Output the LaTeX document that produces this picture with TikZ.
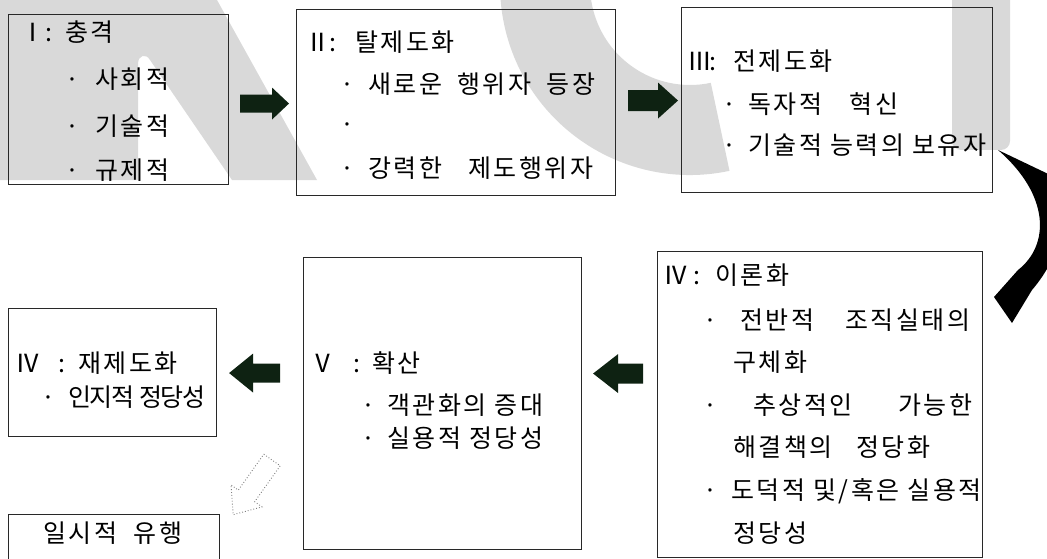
\documentclass[tikz,border=0pt]{standalone}
\usepackage{fontspec}
\usetikzlibrary{calc}
\newfontfamily\kr[LetterSpace=10]{Noto Sans CJK KR}
\newfontfamily\krc[LetterSpace=-5]{Noto Sans CJK KR}
\definecolor{wm}{RGB}{217,217,217}
\definecolor{arrg}{RGB}{14,34,18}
\definecolor{boxline}{RGB}{40,40,40}
\newcommand\bul[2]{\makebox[0pt]{·}\hspace{#1}#2}
% fat horizontal arrow: start, end, half shaft, half head, head length
\newcommand\fatarrow[5]{%
  \fill[arrg] let \p1=(#1), \p2=(#2), \n1={sign(\x2-\x1)} in
    (\x1,\y1+#3) -- (\x2-\n1*#5,\y1+#3) -- (\x2-\n1*#5,\y1+#4) -- (\x2,\y1)
    -- (\x2-\n1*#5,\y1-#4) -- (\x2-\n1*#5,\y1-#3) -- (\x1,\y1-#3) -- cycle;}
\begin{document}
\begin{tikzpicture}[x=1pt,y=-1pt,
  box/.style={draw=boxline, line width=1.1pt, anchor=north west, inner sep=0pt},
  txt/.style={anchor=base west, inner sep=0pt, font=\kr\fontsize{25}{29}\selectfont},
  hollow/.style={draw=gray, dotted, line width=0.9pt}]
\useasboundingbox (0,0) rectangle (1047,559);
\clip (0,0) rectangle (1047,559);
% watermark
\fill[wm] (0,0) -- (217,0) -- (317,180) -- (232,180) -- (150,60)
  .. controls (146,53) and (138,55) .. (138,64) -- (138,180) -- (0,180) -- cycle;
\fill[wm] ([shift={(78:190)}]690,-15) arc[start angle=78,end angle=215,radius=190]
  -- ([shift={(215:100)}]690,-15) arc[start angle=215,end angle=78,radius=100] -- cycle;
\fill[wm, rounded corners=9pt] (952,-20) rectangle (1010,150);
% boxes
\node[box, minimum width=220pt, minimum height=170pt] (b1) at (8,14) {};
\node[box, minimum width=319pt, minimum height=186pt] (b2) at (296,9) {};
\node[box, minimum width=311pt, minimum height=185pt] (b3) at (681,7) {};
\node[box, minimum width=325pt, minimum height=306pt] (b4) at (657,251) {};
\node[box, minimum width=278pt, minimum height=292pt] (b5) at (303,257) {};
\node[box, minimum width=208pt, minimum height=128pt] (b6) at (8,308) {};
\node[box, minimum width=211pt, minimum height=70pt] (b7) at (8,514) {};
% texts
\node[txt] (t1a) at (20,42) {\makebox[25pt][l]{Ⅰ}\makebox[20pt][l]{:}충격};
\node[txt] (t1b) at (72,89) {\bul{23pt}{사회적}};
\node[txt] (t1c) at (72,136) {\bul{23pt}{기술적}};
\node[txt] (t1d) at (72,179) {\bul{23pt}{규제적}};
\node[txt] (t2a) at (305,52) {\makebox[24pt][l]{Ⅱ}\makebox[26pt][l]{:}탈제도화};
\node[txt] (t2b) at (347,94) {\bul{21pt}{\makebox[227pt][s]{새로운 행위자 등장}}};
\node[txt] (t2c) at (347,134) {\makebox[0pt]{·}};
\node[txt] (t2d) at (347,177) {\bul{21pt}{\makebox[225pt][s]{강력한 제도행위자}}};
\node[txt] (t3a) at (687,71) {\makebox[22pt][l]{Ⅲ}\makebox[24pt][l]{:}전제도화};
\node[txt] (t3b) at (729,114) {\bul{19pt}{\makebox[150pt][s]{독자적 혁신}}};
\node[txt] (t3c) at (729,155) {\bul{19pt}{기술적 능력의 보유자}};
\node[txt] (t4a) at (663,284) {\makebox[30pt][l]{Ⅳ}\makebox[22pt][l]{:}이론화};
\node[txt] (t4b) at (710,329) {\bul{30pt}{\makebox[230pt][l]{전반적\hfill 조직실태의}}};
\node[txt] (t4c) at (733,371) {구체화};
\node[txt] (t4d) at (710,414) {\bul{43pt}{\makebox[219pt][l]{추상적인\hfill 가능한}}};
\node[txt] (t4e) at (733,456) {\makebox[197pt][s]{해결책의 정당화}};
\node[txt] (t4f) at (710,499) {\bul{21pt}{도덕적 및/혹은 실용적}};
\node[txt] (t4g) at (733,542) {정당성};
\node[txt] (t5a) at (310,372) {\makebox[43pt][l]{Ⅴ}\makebox[19pt][l]{:}확산};
\node[txt] (t5b) at (368,414) {\bul{19pt}{객관화의 증대}};
\node[txt] (t5c) at (368,447) {\bul{19pt}{실용적 정당성}};
\node[txt] (t6a) at (15,372) {\makebox[43pt][l]{Ⅳ}\makebox[20pt][l]{:}재제도화};
\node[txt] (t6b) at (48,406) {\bul{20pt}{\krc 인지적 정당성}};
\node[txt] (t7) at (43,542) {\makebox[139pt][s]{일시적 유행}};
% fat arrows
\fatarrow{[xshift=11pt,yshift=-4pt]b1.east}{[xshift=-7pt]b2.west}{9pt}{16pt}{17pt}
\fatarrow{[xshift=12pt,yshift=2pt]b2.east}{[xshift=-3pt]b3.west}{10.5pt}{18pt}{20pt}
\fatarrow{[xshift=-14pt,yshift=31pt]b4.west}{[xshift=11pt]b5.east}{10pt}{19.5pt}{25pt}
\fatarrow{[xshift=-23pt,yshift=30.5pt]b5.west}{[xshift=12pt]b6.east}{9.5pt}{19.5pt}{24pt}
% curved arrow from III to IV
\fill[black] (998,150) -- (1065,182) .. controls (1068,215) and (1062,255) .. (1032,290)
  -- (1012,323) -- (994,297) -- (1018,270) .. controls (1050,245) and (1050,195) .. (998,150) -- cycle;
% dotted hollow arrow towards the fad box
\draw[hollow] (263.8,454.2) -- (280.2,465.8) -- (254.7,501.7) -- (262.0,506.9)
  -- (233.2,514.7) -- (231.0,484.9) -- (238.3,490.1) -- cycle;
\end{tikzpicture}
\end{document}
